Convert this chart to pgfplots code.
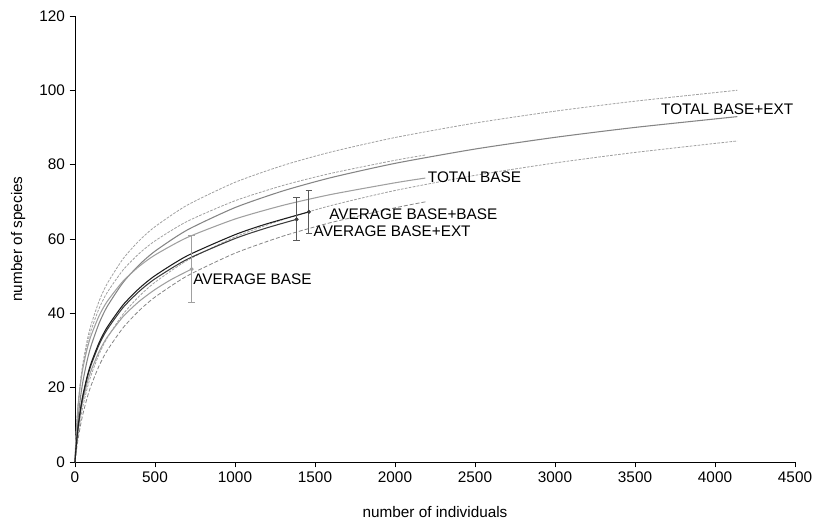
\documentclass[border=0pt]{standalone}
\usepackage{pgfplots}
\pgfplotsset{compat=1.18}
\usepackage{fontspec}
\setmainfont{Liberation Sans}
\newcommand\fs{\fontsize{11.5pt}{13.5pt}\selectfont}
\definecolor{lg}{HTML}{A0A0A0}
\definecolor{mg}{HTML}{858585}
\definecolor{dk}{HTML}{1E1E1E}
\definecolor{dk2}{HTML}{3C3C3C}
\begin{document}
\begin{tikzpicture}
\begin{axis}[name=ax, scale only axis, width=540pt, height=334.5pt,
  xmin=0, xmax=4500, ymin=0, ymax=120,
  xtick={0,500,...,4500}, ytick={0,20,...,120},
  axis x line*=bottom, axis y line*=left,
  axis line style={-, black, line width=0.6pt},
  tick align=outside, major tick length=4pt, tick style={black, line width=0.6pt},
  /pgf/number format/assume math mode=true,
  /pgf/number format/set thousands separator={},
  tick label style={font=\fs},
  xlabel={number of individuals}, ylabel={number of species},
  xlabel style={font=\fs, at={(axis description cs:0.5,-0.112)}, anchor=center},
  ylabel style={font=\fs, at={(axis description cs:-0.079,0.5)}, anchor=center},
  clip=false,
  every axis plot/.append style={smooth, tension=0.4},
]
% TOTAL BASE+EXT upper
\addplot[lg, dash pattern=on 2pt off 1pt, line width=0.6pt] coordinates {(0,0)(5,5.37)(10,9.47)(20,15.59)(35,22.01)(50,26.71)(75,32.50)(100,36.85)(150,43.24)(200,47.91)(300,54.65)(400,59.51)(500,63.31)(700,69.08)(1000,75.25)(1300,79.80)(1600,83.41)(2000,87.30)(2500,91.20)(3000,94.39)(3500,97.08)(4140,100.02)};
% TOTAL BASE+EXT lower
\addplot[lg, dash pattern=on 2pt off 1pt, line width=0.6pt] coordinates {(0,0)(5,2.19)(10,4.15)(20,7.53)(35,11.68)(50,15.07)(75,19.62)(100,23.28)(150,28.95)(200,33.29)(300,39.76)(400,44.55)(500,48.36)(700,54.21)(1000,60.54)(1300,65.24)(1600,69.00)(2000,73.05)(2500,77.13)(3000,80.46)(3500,83.29)(4140,86.38)};
% TOTAL BASE upper
\addplot[lg, dash pattern=on 2pt off 1pt, line width=0.6pt] coordinates {(0,0)(5,5.52)(10,9.61)(20,15.55)(35,21.64)(50,26.03)(75,31.40)(100,35.40)(150,41.25)(200,45.52)(300,51.64)(400,56.05)(500,59.49)(700,64.72)(1000,70.29)(1300,74.41)(1600,77.67)(2000,81.18)(2190,82.61)};
% TOTAL BASE lower
\addplot[mg, dash pattern=on 3pt off 1.5pt, line width=0.6pt] coordinates {(0,0)(5,1.81)(10,3.45)(20,6.35)(35,9.98)(50,13.01)(75,17.14)(100,20.52)(150,25.82)(200,29.92)(300,36.09)(400,40.70)(500,44.37)(700,50.04)(1000,56.18)(1300,60.77)(1600,64.43)(2000,68.39)(2190,70.00)};
% TOTAL BASE+EXT
\addplot[mg, line width=0.8pt] coordinates {(0,0)(5,3.88)(10,7.06)(20,12.07)(35,17.61)(50,21.81)(75,27.13)(100,31.19)(150,37.26)(200,41.75)(300,48.27)(400,53.00)(500,56.72)(700,62.39)(1000,68.45)(1300,72.94)(1600,76.51)(2000,80.35)(2500,84.20)(3000,87.35)(3500,90.02)(4140,92.93)};
% TOTAL BASE
\addplot[lg, line width=0.8pt] coordinates {(0,0)(5,5.74)(10,9.82)(20,15.56)(35,21.31)(50,25.38)(75,30.31)(100,33.97)(150,39.27)(200,43.13)(300,48.64)(400,52.60)(500,55.70)(700,60.38)(1000,65.37)(1300,69.06)(1600,71.98)(2000,75.12)(2190,76.40)};
% AVERAGE BASE
\addplot[lg, line width=0.8pt] coordinates {(0,0)(5,2.78)(10,5.13)(20,8.96)(35,13.34)(50,16.74)(75,21.13)(100,24.53)(150,29.66)(200,33.49)(300,39.09)(400,43.18)(500,46.40)(600,49.06)(729,51.92)};
% AVERAGE BASE+EXT
\addplot[dk2, line width=0.8pt] coordinates {(0,0)(5,2.95)(10,5.45)(20,9.52)(35,14.17)(50,17.79)(75,22.44)(100,26.06)(150,31.50)(200,35.57)(300,41.53)(400,45.87)(500,49.29)(700,54.52)(1000,60.12)(1200,63.01)(1385,65.29)};
% AVERAGE BASE+BASE
\addplot[dk, line width=0.8pt] coordinates {(0,0)(5,3.00)(10,5.54)(20,9.68)(35,14.42)(50,18.09)(75,22.83)(100,26.51)(150,32.05)(200,36.19)(300,42.24)(400,46.66)(500,50.14)(700,55.46)(1000,61.16)(1200,64.10)(1462,67.29)};
% error bars
\addplot[lg, only marks, mark=*, mark size=1.3pt,
  error bars/.cd, y dir=both, y explicit,
  error bar style={lg, line width=0.8pt},
  error mark options={rotate=90, mark size=2.5pt, lg, line width=0.8pt}]
  coordinates {(729,51.9) +- (0,9.0)};
\addplot[dk2, only marks, mark=*, mark size=1.3pt,
  error bars/.cd, y dir=both, y explicit,
  error bar style={black!65, line width=0.7pt},
  error mark options={rotate=90, mark size=2.5pt, black!65, line width=0.7pt}]
  coordinates {(1385,65.3) +- (0,5.75) (1462,67.3) +- (0,5.7)};
\node[anchor=west, font=\fs, inner sep=0pt] at (axis cs:3662,94.9) {TOTAL BASE+EXT};
\node[anchor=west, font=\fs, inner sep=0pt] at (axis cs:2204,76.5) {TOTAL BASE};
\node[anchor=west, font=\fs, inner sep=0pt] at (axis cs:1588,66.7) {AVERAGE BASE+BASE};
\node[anchor=west, font=\fs, inner sep=0pt] at (axis cs:1490,62.0) {AVERAGE BASE+EXT};
\node[anchor=west, font=\fs, inner sep=0pt] at (axis cs:738,49.2) {AVERAGE BASE};
\end{axis}
\path ([shift={(-56.25pt,-47.25pt)}]ax.south west) rectangle ([shift={(16.5pt,12pt)}]ax.north east);
\end{tikzpicture}
\end{document}
